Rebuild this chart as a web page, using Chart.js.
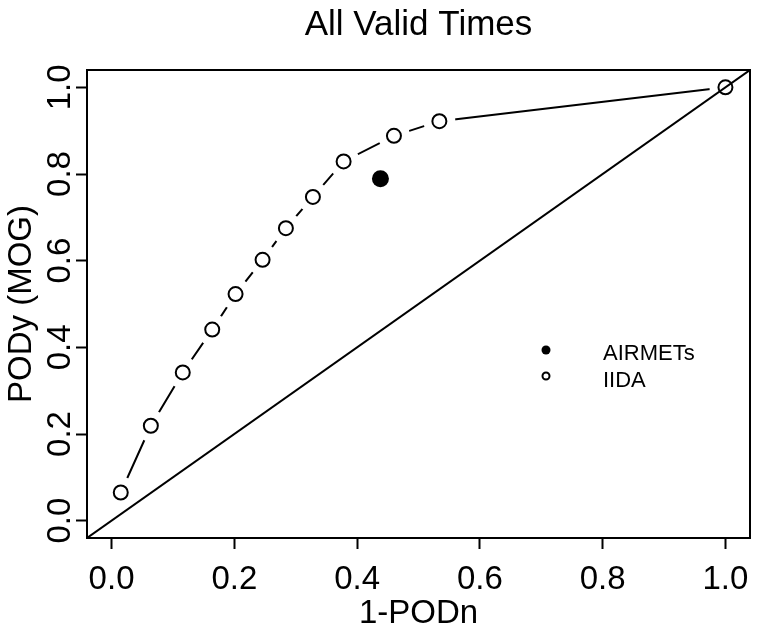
<!DOCTYPE html>
<html>
<head>
<meta charset="utf-8">
<script src="https://cdn.jsdelivr.net/npm/chart.js@4.4.1/dist/chart.umd.min.js"></script>
<style>
html, body { margin: 0; padding: 0; background: #fff; }
</style>
</head>
<body>
<canvas id="roc" width="766" height="627"></canvas>
<script>
// valeurs
var iidaX = [0.015, 0.064, 0.116, 0.164, 0.202, 0.246, 0.284, 0.328, 0.378, 0.460, 0.534, 1.0];
var iidaY = [0.065, 0.219, 0.342, 0.441, 0.523, 0.602, 0.675, 0.747, 0.829, 0.888, 0.922, 1.0];
var airmetX = [0.438];
var airmetY = [0.789];
var seriesNames = ['AIRMETs', 'IIDA'];
var tickValues = [0.0, 0.2, 0.4, 0.6, 0.8, 1.0];
var axisRange = [-0.04, 1.04];

var FONT = "'Liberation Sans', Arial, sans-serif";
Chart.defaults.font.family = FONT;
Chart.defaults.color = '#000';

function toPoints(xs, ys) {
    return xs.map(function (x, i) { return { x: x, y: ys[i] }; });
}

var iidaPts = toPoints(iidaX, iidaY);
var airmetPts = toPoints(airmetX, airmetY);
// diagonale y = x sur toute la zone
var diagPts = toPoints(axisRange, axisRange);

// cadre, titre, étiquettes de l'axe y tournées et légende
var extras = {
    id: 'extras',
    afterDraw: function (chart) {
        var ctx = chart.ctx, a = chart.chartArea, ys = chart.scales.y;
        ctx.save();
        ctx.strokeStyle = '#000';
        ctx.lineWidth = 2;
        ctx.strokeRect(a.left, a.top, a.right - a.left, a.bottom - a.top);

        ctx.fillStyle = '#000';
        ctx.font = '35px ' + FONT;
        ctx.textAlign = 'center';
        ctx.textBaseline = 'alphabetic';
        ctx.fillText('All Valid Times', (a.left + a.right) / 2, 35);

        ctx.font = '33px ' + FONT;
        tickValues.forEach(function (v) {
            var py = ys.getPixelForValue(v);
            ctx.save();
            ctx.translate(70, py);
            ctx.rotate(-Math.PI / 2);
            ctx.fillText(v.toFixed(1), 0, 0);
            ctx.restore();
        });

        // légende
        ctx.font = '22px ' + FONT;
        ctx.textAlign = 'left';
        ctx.beginPath();
        ctx.arc(546, 350, 4.5, 0, Math.PI * 2);
        ctx.fill();
        ctx.fillText(seriesNames[0], 603, 360);
        ctx.beginPath();
        ctx.arc(546, 376, 3.5, 0, Math.PI * 2);
        ctx.lineWidth = 2;
        ctx.stroke();
        ctx.fillText(seriesNames[1], 603, 387);
        ctx.restore();
    }
};

function fixedTicks(scale) {
    scale.ticks = tickValues.map(function (v) { return { value: v }; });
}

var ctx = document.getElementById('roc').getContext('2d');
var rocChart = new Chart(ctx, {
    type: 'line',
    data: {
        datasets: [
            {
                label: seriesNames[0],
                data: airmetPts,
                showLine: false,
                pointRadius: 8.5,
                pointBackgroundColor: '#000',
                pointBorderColor: 'rgba(0,0,0,0)',
                pointBorderWidth: 0,
                order: 0
            },
            {
                label: seriesNames[1],
                data: iidaPts,
                showLine: false,
                pointRadius: 7,
                pointBackgroundColor: 'rgba(0,0,0,0)',
                pointBorderColor: '#000',
                pointBorderWidth: 2,
                order: 1
            },
            {
                label: 'diag',
                data: diagPts,
                borderColor: '#000',
                borderWidth: 2,
                pointRadius: 0,
                order: 2
            },
            {
                // ligne avec des trous autour des points (type "b")
                label: 'IIDA line',
                data: iidaPts,
                borderColor: '#000',
                borderWidth: 2,
                pointRadius: 16,
                pointBackgroundColor: '#fff',
                pointBorderColor: 'rgba(0,0,0,0)',
                pointBorderWidth: 0,
                order: 3
            }
        ]
    },
    options: {
        responsive: false,
        animation: false,
        events: [],
        layout: { padding: { top: 70, right: 2, left: 0, bottom: 0 } },
        plugins: {
            legend: { display: false },
            title: { display: false },
            tooltip: { enabled: false }
        },
        scales: {
            x: {
                type: 'linear',
                min: axisRange[0],
                max: axisRange[1],
                afterBuildTicks: fixedTicks,
                afterFit: function (s) { s.height = 89; },
                grid: { drawOnChartArea: false, drawTicks: true, tickLength: 11, tickWidth: 2, tickColor: '#000' },
                border: { display: false },
                ticks: {
                    autoSkip: false,
                    maxRotation: 0,
                    padding: 11,
                    font: { size: 33 },
                    color: '#000',
                    callback: function (v) { return Number(v).toFixed(1); }
                },
                title: { display: true, text: '1-PODn', font: { size: 33, lineHeight: 0.8 }, color: '#000', padding: 0 }
            },
            y: {
                type: 'linear',
                min: axisRange[0],
                max: axisRange[1],
                afterBuildTicks: fixedTicks,
                afterFit: function (s) { s.width = 87; },
                grid: { drawOnChartArea: false, drawTicks: true, tickLength: 11, tickWidth: 2, tickColor: '#000' },
                border: { display: false },
                ticks: { display: false },
                title: { display: true, text: 'PODy (MOG)', font: { size: 33, lineHeight: 0.8 }, color: '#000', padding: { top: 9, bottom: 0 } }
            }
        }
    },
    plugins: [extras]
});
</script>
</body>
</html>
